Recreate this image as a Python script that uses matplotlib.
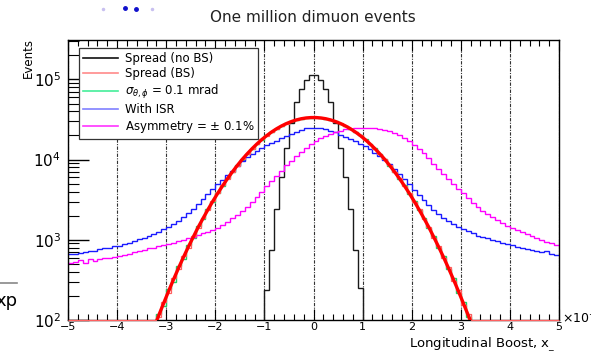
import matplotlib
matplotlib.use("Agg")
import matplotlib.pyplot as plt
from matplotlib.lines import Line2D
from matplotlib.ticker import MultipleLocator, LogLocator, NullFormatter
import numpy as np

# Data (bin contents, 100 bins of width 0.1 between -5 and 5) ###############

bin_edges = np.linspace(-5, 5, 101)

spread_nobs = [0] * 40 + [237, 750, 2450, 6100, 14000, 29000, 52000, 77000, 97000, 115000,
                          115000, 97000, 77000, 52000, 29000, 14000, 6100, 2450, 750, 250] + [0] * 40

spread_bs_fit = [0] * 17 + [79, 115, 163, 230, 321, 443, 604, 813, 1080, 1430, 1850, 2380, 3030,
                            3810, 4730, 5810, 7060, 8480, 10090, 11820, 13710, 15720, 17830, 19990,
                            22160, 24290, 26310, 28170, 29830, 31230, 32330, 33070, 33450,
                            33450, 33070, 32330, 31230, 29830, 28170, 26310, 24290, 22160, 19990,
                            17830, 15720, 13710, 11820, 10090, 8480, 7060, 5810, 4730, 3810, 3030,
                            2380, 1850, 1430, 1080, 813, 604, 443, 321, 230, 163, 115, 79] + [0] * 17

spread_bs = [0] * 17 + [70, 110, 170, 220, 330, 430, 620, 800, 1100, 1410, 1870, 2360, 3060, 3790,
                        4760, 5780, 7100, 8440, 10150, 11780, 13750, 15680, 17900, 19950, 22200,
                        24250, 26350, 28100, 29900, 31200, 32400, 33000, 33500,
                        33400, 33100, 32300, 31250, 29800, 28200, 26300, 24300, 22100, 20050,
                        17800, 15750, 13650, 11850, 10050, 8500, 7020, 5830, 4700, 3830, 3000,
                        2400, 1830, 1450, 1060, 830, 590, 455, 310, 240, 155, 120, 80] + [0] * 17

sigma_01 = [0] * 17 + [85, 120, 150, 245, 300, 470, 580, 850, 1040, 1480, 1800, 2430, 2980, 3870,
                       4660, 5900, 6980, 8560, 10000, 11900, 13600, 15800, 17700, 20100, 22000,
                       24400, 26200, 28300, 29700, 31300, 32200, 33200, 33300,
                       33500, 33000, 32400, 31100, 29900, 28100, 26400, 24200, 22300, 20000,
                       17900, 15600, 13800, 11700, 10200, 8400, 7100, 5750, 4800, 3760, 3080,
                       2340, 1890, 1400, 1110, 790, 620, 430, 335, 220, 170, 110, 75] + [0] * 17

with_isr = [660, 670, 690, 700, 730, 720, 760, 780, 800, 840,
            830, 880, 900, 960, 1010, 1060, 1130, 1180, 1260, 1370,
            1440, 1560, 1720, 1900, 2150, 2450, 2800, 3200, 3700, 4300,
            4900, 5600, 6400, 7300, 8300, 9600, 10700, 11800, 12900, 14000,
            15000, 16200, 17300, 18500, 19700, 20900, 22200, 23500, 24500, 25000,
            25100, 24800, 24200, 23000, 21800, 20500, 19300, 18000, 16900, 15700,
            14600, 13500, 12200, 11000, 9800, 8700, 7600, 6600, 5700, 4900,
            4200, 3600, 3100, 2700, 2350, 2100, 1880, 1700, 1560, 1440,
            1360, 1270, 1210, 1130, 1090, 1040, 990, 960, 910, 880,
            850, 820, 800, 760, 740, 730, 700, 720, 660, 640]

asymmetry = [520, 530, 560, 510, 580, 550, 570, 600, 590, 610,
             630, 650, 670, 700, 730, 740, 780, 800, 830, 860,
             880, 920, 960, 1000, 1040, 1090, 1140, 1200, 1260, 1320,
             1420, 1530, 1680, 1850, 2050, 2300, 2600, 2950, 3400, 3950,
             4700, 5400, 6300, 7300, 8500, 9700, 11000, 12500, 14000, 15600,
             17000, 18400, 19800, 21000, 22100, 23000, 23800, 24400, 24800, 25000,
             25100, 25000, 24700, 24200, 23600, 22600, 21400, 20000, 18500, 16900,
             15300, 13600, 12000, 10400, 8900, 7600, 6700, 5700, 4900, 4300,
             3800, 3300, 2900, 2550, 2300, 2100, 1900, 1750, 1600, 1480,
             1390, 1310, 1240, 1170, 1110, 1050, 1000, 950, 900, 850]

labels = ["Spread (no BS)", "Spread (BS)", r"$\sigma_{\theta,\phi}$ = 0.1 mrad",
          "With ISR", "Asymmetry = $\\pm$ 0.1%"]

# Plot ######################################################################

plt.rcParams['font.family'] = 'DejaVu Sans'

fig = plt.figure(figsize=(5.91, 3.52), dpi=100)
ax = fig.add_axes([68 / 591, 32 / 352, 491 / 591, 280 / 352])

centers = 0.5 * (bin_edges[1:] + bin_edges[:-1])
ymin = 100

ax.stairs(np.maximum(spread_bs, ymin * 1.01), bin_edges, baseline=None, color='#ff6060', lw=0.9,
          zorder=3, clip_on=False)
ax.stairs(np.where(np.array(sigma_01) > 0, sigma_01, np.nan), bin_edges, baseline=None,
          color='#22cc66', lw=1.0, zorder=2)
ax.stairs(np.where(np.array(spread_nobs) > 0, spread_nobs, 1), bin_edges, baseline=None,
          color='#1a1a1a', lw=1.0, zorder=2)
ax.stairs(with_isr, bin_edges, baseline=None, color='#1a1aff', lw=1.0, zorder=2)
ax.stairs(asymmetry, bin_edges, baseline=None, color='#ff00ff', lw=1.0, zorder=2)
fit = np.array(spread_bs_fit, dtype=float)
fit[fit == 0] = np.nan
ax.plot(centers, fit, color='#ff0000', lw=2.4, zorder=4)

ax.set_yscale('log')
ax.set_xlim(-5, 5)
ax.set_ylim(ymin, 3.1e5)

ax.xaxis.set_major_locator(MultipleLocator(1))
ax.xaxis.set_minor_locator(MultipleLocator(0.2))
ax.yaxis.set_minor_locator(LogLocator(base=10, subs=np.arange(2, 10)))
ax.yaxis.set_minor_formatter(NullFormatter())
ax.tick_params(axis='x', which='major', direction='in', length=8, width=0.8, top=True,
               labelsize=8, pad=1.5)
ax.tick_params(axis='x', which='minor', direction='in', length=4, width=0.8, top=True)
ax.tick_params(axis='y', which='major', direction='in', length=15, width=1.0, labelsize=11, pad=5)
ax.tick_params(axis='y', which='minor', direction='in', length=8, width=0.8)
ax.set_xticks(range(-5, 6))
ax.set_xticklabels(['\u22125', '\u22124', '\u22123', '\u22122', '\u22121', '0', '1', '2', '3', '4', '5'])
ax.grid(axis='x', which='major', color='#333333', lw=0.8, linestyle=(0, (3, 1.2, 1, 1.2)))
for s in ax.spines.values():
    s.set_linewidth(1.0)

handles = [Line2D([], [], color='#111111', lw=1.2),
           Line2D([], [], color='#ff8a8a', lw=1.2),
           Line2D([], [], color='#44ee99', lw=1.2),
           Line2D([], [], color='#8080ff', lw=1.2),
           Line2D([], [], color='#ff33ff', lw=1.2)]
leg = ax.legend(handles, labels, loc='upper left', bbox_to_anchor=(0.0224, 0.971, 0.365, 0.0),
                mode='expand', borderaxespad=0, fontsize=8.5, handlelength=3.0,
                handletextpad=0.6, labelspacing=0.22, borderpad=0.3, fancybox=False,
                framealpha=1, edgecolor='#333333')
leg.get_frame().set_linewidth(0.9)

fig.text(313 / 591, 1 - 17 / 352, 'One million dimuon events', ha='center', va='center',
         fontsize=11, color='#222222')
fig.text(28 / 591, 1 - 58 / 352, 'Events', rotation=90, ha='center', va='center', fontsize=8.5)
fig.text(556 / 591, 1 - 344 / 352, r'Longitudinal Boost, x$_{\_}$', ha='right', va='center',
         fontsize=9.5)
fig.text(562 / 591, 1 - 318 / 352, r'$\times$10$^{-3}$', ha='left', va='center', fontsize=9)

# stray marks at the picture edges
fig.add_artist(Line2D([103 / 591, 152 / 591], [1 - 9 / 352, 1 - 9 / 352], ls='none', marker='o',
                      ms=1.5, color='#c8c0f0'))
fig.add_artist(Line2D([125 / 591, 136 / 591], [1 - 8 / 352, 1 - 9 / 352], ls='none', marker='o',
                      ms=2.5, color='#1010cc'))
fig.add_artist(Line2D([0, 17 / 591], [1 - 283 / 352, 1 - 283 / 352], color='#888888', lw=1.2))
fig.text(-0.008, 1 - 301 / 352, 'xp', ha='left', va='center', fontsize=13)

fig.savefig('out.png', dpi=100)
